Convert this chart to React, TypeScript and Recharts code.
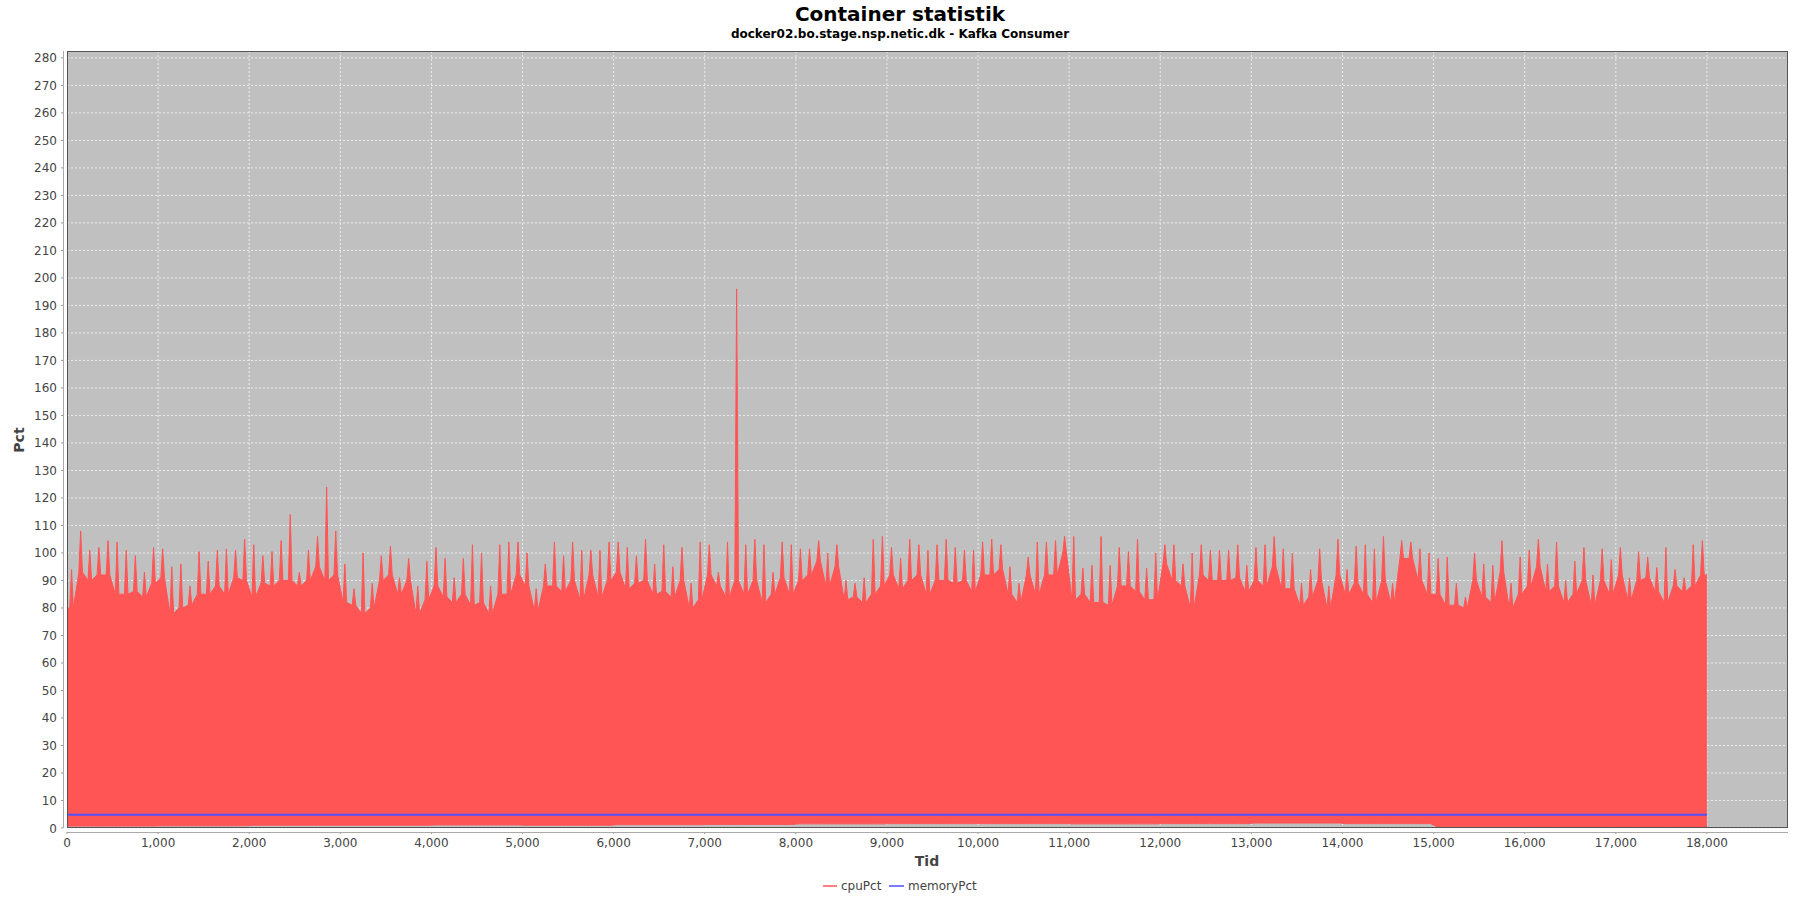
import { ComposedChart, Area, Line, XAxis, YAxis, CartesianGrid } from 'recharts';

const xTicks = [0, 1000, 2000, 3000, 4000, 5000, 6000, 7000, 8000, 9000, 10000, 11000, 12000, 13000, 14000, 15000, 16000, 17000, 18000];
const yTicks = [0, 10, 20, 30, 40, 50, 60, 70, 80, 90, 100, 110, 120, 130, 140, 150, 160, 170, 180, 190, 200, 210, 220, 230, 240, 250, 260, 270, 280];

// cpuPct, read per 100 "Tid" bin: highest spike in the bin
const cpuHigh = [
  94, 108, 101, 102, 104.5, 104, 101, 99, 93, 102,
  101.5, 95, 96, 88, 100.5, 97, 101, 101.5, 101, 105,
  103, 99, 100.5, 104.5, 114, 93, 101, 106, 124, 108,
  96, 87, 100, 89, 99, 102.5, 91, 98, 88, 97,
  102, 98, 91, 98, 103, 100, 88, 103, 104, 104,
  100, 87, 96, 104, 99, 104, 101, 101, 101, 104,
  104, 102, 99, 105, 96, 103, 95, 102, 89, 104,
  103, 93, 104, 196, 103, 105, 103, 93, 104, 103,
  101.5, 101.5, 104.5, 100, 103, 90, 89, 91, 105, 106,
  102, 98, 105, 103, 101, 103, 105, 102, 101, 101,
  104, 105, 103, 95, 89, 98.5, 104, 104, 104.5, 106,
  106, 94.5, 95.5, 106, 95.5, 102, 100.5, 105, 94.5, 100,
  103, 103, 96, 100, 103, 101, 101, 101, 103, 95.5,
  102, 103, 106, 101.5, 100, 89, 94, 101.5, 88, 105,
  94, 102.5, 103, 101.5, 106, 89, 104.5, 104, 101.5, 100,
  98, 98.5, 89, 84, 100, 96, 95.5, 104.5, 89, 98.5,
  101, 105, 96, 104, 90, 97, 102, 92, 101.5, 97.6,
  102, 91, 100.5, 98.5, 94.7, 102, 94, 91, 103, 104.5,
];

// cpuPct, read per 100 "Tid" bin: level of the lower tops in the bin
const cpuLow = [
  80, 93, 90, 92, 92, 85, 85, 86, 84, 89,
  91, 78, 80, 81, 85, 85, 88, 85, 91, 90,
  84, 89, 88, 90, 90, 88, 90, 95, 90, 92,
  82, 81, 78, 80, 90, 92, 85, 90, 78, 83,
  88, 84, 82, 85, 81, 82, 78, 85, 85, 92,
  88, 79, 88, 88, 86, 90, 83, 92, 84, 90,
  93, 87, 89, 90, 85, 86, 84, 90, 80, 83,
  92, 88, 84, 90, 85, 90, 82, 85, 91, 85,
  90, 92, 97, 88, 95, 83, 84, 82, 85, 88,
  92, 87, 90, 92, 85, 90, 90, 89, 90, 86,
  92, 92, 94, 85, 82, 92, 85, 92, 92, 100,
  83, 85, 82, 82, 81, 88, 88, 86, 83, 83,
  96, 90, 88, 80, 92, 90, 90, 90, 91, 86,
  90, 88, 95, 87, 87, 81, 84, 90, 80, 92,
  85, 89, 85, 82, 90, 82, 98, 98, 90, 85,
  85, 81, 81, 80, 90, 84, 82, 93, 80, 85,
  88, 95, 86, 88, 82, 85, 90, 81, 90, 85,
  92, 83, 90, 91, 86, 82, 88, 86, 88, 92,
];

// cpuPct lowest values per 1000 "Tid"
const cpuFloor = [0.7, 0.8, 1.0, 1.0, 1.1, 1.0, 1.2, 1.3, 1.5, 1.6, 1.6, 1.5, 1.6, 1.8, 1.6, 0.5, 0.4, 0.4];

const memoryTime = [0, 1000, 2000, 3000, 4000, 5000, 6000, 7000, 8000, 9000, 10000, 11000, 12000, 13000, 14000, 15000, 16000, 17000, 18000];
const memoryPct = [4.8, 4.8, 4.8, 4.8, 4.8, 4.8, 4.8, 4.8, 4.8, 4.8, 4.8, 4.8, 4.8, 4.8, 4.8, 4.8, 4.8, 4.8, 4.8];

const cpuData: { t: number; cpu: number[] }[] = [{ t: 0, cpu: [cpuFloor[0], cpuLow[0]] }];
cpuHigh.forEach((hi, i) => {
  const fl = cpuFloor[Math.floor(i / 10)];
  cpuData.push(
    { t: i * 100 + 30, cpu: [fl, cpuLow[i]] },
    { t: i * 100 + 50, cpu: [fl, hi] },
    { t: i * 100 + 70, cpu: [fl, cpuLow[i]] },
  );
});
cpuData.push({ t: 18000, cpu: [cpuFloor[cpuFloor.length - 1], cpuLow[cpuLow.length - 1]] });

const memoryData = memoryTime.map((t, i) => ({ t, mem: memoryPct[i] }));

const FONT = '"DejaVu Sans", Verdana, sans-serif';
const RED = '#ff5555';
const BLUE = '#4f4fff';

const fmt = (v: number) => v.toLocaleString('en-US');

const XTick = ({ x, y, payload }: any) => (
  <g>
    <line x1={x} x2={x} y1={y + 4} y2={y + 6} stroke="#999" />
    <text x={x} y={y + 19} textAnchor="middle" fontSize={12} fill="#444" fontFamily={FONT}>
      {fmt(payload.value)}
    </text>
  </g>
);

const YTick = ({ x, y, payload }: any) => (
  <g>
    <line x1={x - 6} x2={x - 4} y1={y} y2={y} stroke="#999" />
    <text x={x - 10} y={y + 4.5} textAnchor="end" fontSize={12} fill="#444" fontFamily={FONT}>
      {payload.value}
    </text>
  </g>
);

export default function App() {
  return (
    <div style={{ position: 'absolute', left: 0, top: 0, width: 1800, height: 900, background: '#fff' }}>
      <ComposedChart
        width={1800}
        height={900}
        margin={{ top: 51, right: 12, bottom: 32, left: 7 }}
      >
        <CartesianGrid
          stroke="#ececec"
          strokeDasharray="2 2"
          fill="#c0c0c0"
          fillOpacity={1}
          horizontalValues={yTicks}
          verticalValues={xTicks}
        />
        <XAxis
          dataKey="t"
          type="number"
          domain={[0, 18890]}
          ticks={xTicks}
          allowDataOverflow
          height={40}
          tickSize={0}
          tickMargin={0}
          axisLine={false}
          tickLine={false}
          tick={<XTick />}
          interval={0}
        />
        <YAxis
          type="number"
          domain={[0, 282.5]}
          ticks={yTicks}
          allowDataOverflow
          width={60}
          tickSize={0}
          tickMargin={0}
          axisLine={false}
          tickLine={false}
          tick={<YTick />}
          interval={0}
        />
        <Area
          data={cpuData}
          dataKey="cpu"
          name="cpuPct"
          type="linear"
          stroke={RED}
          strokeWidth={1}
          fill={RED}
          fillOpacity={1}
          isAnimationActive={false}
          dot={false}
          activeDot={false}
        />
        <Line
          data={memoryData}
          dataKey="mem"
          name="memoryPct"
          type="linear"
          stroke={BLUE}
          strokeWidth={2}
          dot={false}
          activeDot={false}
          isAnimationActive={false}
        />
      </ComposedChart>
      <svg
        width={1800}
        height={900}
        style={{ position: 'absolute', left: 0, top: 0, pointerEvents: 'none' }}
        fontFamily={FONT}
      >
        <rect x={67.5} y={51.5} width={1720} height={776} fill="none" stroke="#555" />
        <line x1={63.5} x2={63.5} y1={51} y2={828} stroke="#aaa" />
        <line x1={67} x2={1788} y1={832.5} y2={832.5} stroke="#aaa" />
        <text x={900} y={21} textAnchor="middle" fontSize={20} fontWeight="bold" fill="#000">
          Container statistik
        </text>
        <text x={900} y={38} textAnchor="middle" fontSize={12} fontWeight="bold" fill="#000">
          docker02.bo.stage.nsp.netic.dk - Kafka Consumer
        </text>
        <text x={927} y={866} textAnchor="middle" fontSize={14} fontWeight="bold" fill="#444">
          Tid
        </text>
        <text
          x={24}
          y={440}
          textAnchor="middle"
          fontSize={14}
          fontWeight="bold"
          fill="#444"
          transform="rotate(-90 24 440)"
        >
          Pct
        </text>
        <line x1={823} x2={837} y1={886} y2={886} stroke={RED} strokeWidth={1.5} />
        <text x={841} y={890} fontSize={12} fill="#444">cpuPct</text>
        <line x1={889} x2={904} y1={886} y2={886} stroke={BLUE} strokeWidth={1.5} />
        <text x={908} y={890} fontSize={12} fill="#444">memoryPct</text>
      </svg>
    </div>
  );
}
